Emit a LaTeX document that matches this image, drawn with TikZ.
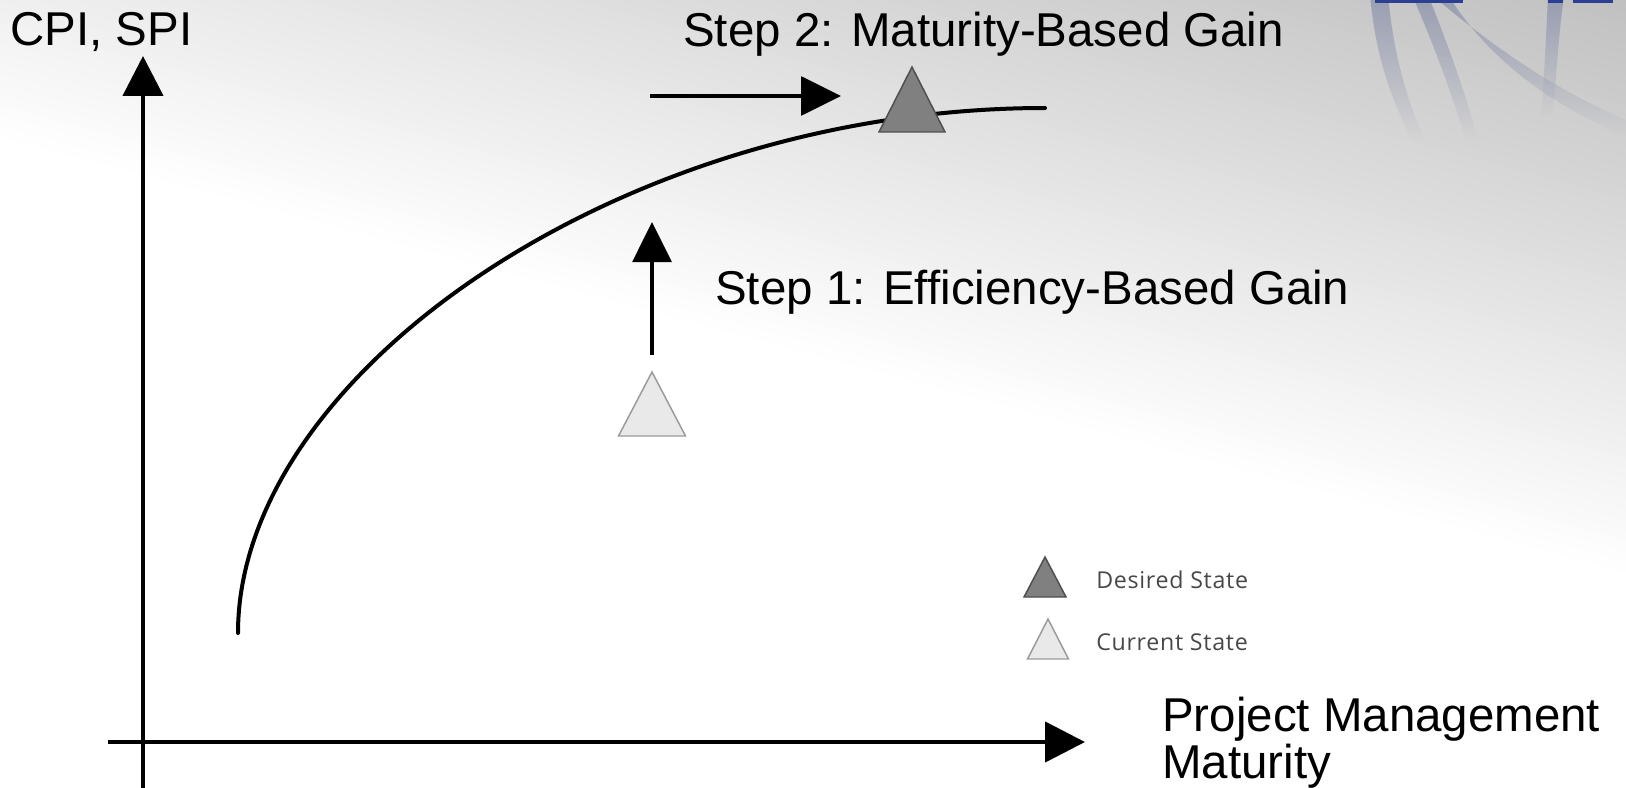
\documentclass[tikz,border=0pt]{standalone}
\usepackage{fontspec}
\setmainfont{Liberation Sans}
\newfontfamily\legendfont[LetterSpace=3]{Open Sans}
\usetikzlibrary{arrows.meta,fadings}
\definecolor{desiredfill}{HTML}{808080}
\definecolor{desiredline}{HTML}{4E4E4E}
\definecolor{currentfill}{HTML}{E9E9E9}
\definecolor{currentline}{HTML}{9A9A9A}
\definecolor{legendtext}{HTML}{484848}
\definecolor{logoblue}{HTML}{2B3F94}
\definecolor{logoghost}{HTML}{6A749C}
\newcommand\statetri[5]{\draw[#5] (#1,#2) -- ++(#3/2,#4) -- ++(-#3,0) -- cycle;}
\begin{document}
\begin{tikzpicture}[x=0.75pt,y=-0.75pt,
  axisline/.style={line width=3.4pt,-{Triangle[length=30pt,width=30pt]}},
  steparrow/.style={line width=3pt,-{Triangle[length=30pt,width=29pt]}},
  curveline/.style={line width=3pt,line cap=round},
  lbl/.style={font=\fontsize{35.6}{42}\selectfont,inner sep=0pt,anchor=base west,text=black},
  leg/.style={font=\legendfont\fontsize{17.4}{20}\selectfont,inner sep=0pt,anchor=base west,text=legendtext},
  desiredtri/.style={fill=desiredfill,draw=desiredline,line width=1.1pt,line join=miter},
  currenttri/.style={fill=currentfill,draw=currentline,line width=1.1pt,line join=miter}
]
\useasboundingbox (0,0) rectangle (1626,788);
% background gradient
\begin{scope}
\clip (0,0) rectangle (1626,788);
\fill[white] (0,0) rectangle (1626,788);
\foreach \p in {620,630,...,1260} {
  \pgfmathsetmacro\ya{788-\p/cos(15)}
  \pgfmathsetmacro\yb{788-(\p-1626*sin(15))/cos(15)}
  \pgfmathsetmacro\k{min(26,max(0,(\p-620)*0.044))}
  \fill[black!\k] (0,\ya) -- (1626,\yb) -- (1626,-10) -- (0,-10) -- cycle;
}
% faint logo remains
\begin{scope}[transparency group, opacity=0.5]
\fill[logoghost, path fading=south] (1370,-5) .. controls (1376,60) and (1392,100) .. (1412,140)
  -- (1424,140) .. controls (1408,100) and (1394,60) .. (1388,-5) -- cycle;
\fill[logoghost, path fading=south] (1412,-5) .. controls (1436,50) and (1452,95) .. (1466,140)
  -- (1478,140) .. controls (1466,95) and (1450,50) .. (1428,-5) -- cycle;
\fill[logoghost, path fading=south] (1432,-5) .. controls (1496,50) and (1560,92) .. (1626,120)
  -- (1626,136) .. controls (1556,108) and (1490,62) .. (1448,-5) -- cycle;
\fill[logoghost, path fading=south] (1548,-5) .. controls (1546,40) and (1544,80) .. (1541,115)
  -- (1553,115) .. controls (1556,80) and (1558,40) .. (1564,-5) -- cycle;
\end{scope}
\fill[logoblue] (1375,0) rectangle (1463,3);
\fill[logoblue] (1548,0) rectangle (1563,3);
\fill[logoblue] (1573,0) rectangle (1613,3);
\end{scope}
% axes
\coordinate (yaxisbottom) at (143,788);
\coordinate (yaxistop) at (143,56);
\coordinate (xaxisleft) at (108,742);
\coordinate (xaxisright) at (1085,742);
\draw[axisline] (yaxisbottom) -- (yaxistop);
\draw[axisline] (xaxisleft) -- (xaxisright);
% maturity curve
\coordinate (curvestart) at (238,633);
\coordinate (curveend) at (1045,108);
\draw[curveline] (curvestart) .. controls (238,375) and (620,108) .. (curveend);
% step arrows
\coordinate (s2from) at (650,96);
\coordinate (s2to) at (841,96);
\draw[steparrow] (s2from) -- (s2to);
\coordinate (s1from) at (652,355);
\coordinate (s1to) at (652,222);
\draw[steparrow] (s1from) -- (s1to);
% states
\statetri{912}{67}{66}{65}{desiredtri}
\statetri{652}{372}{67}{64}{currenttri}
% legend
\statetri{1045}{557}{42}{40}{desiredtri}
\statetri{1048}{619}{41}{40}{currenttri}
\node[leg] (desiredlbl) at (1096,588) {Desired State};
\node[leg] (currentlbl) at (1096,650) {Current State};
% labels
\node[lbl] (cpi) at (10,46) {CPI, SPI};
\node[lbl] (step2) at (683,47) {Step 2: Maturity-Based Gain};
\node[lbl] (step1) at (715,304) {Step 1: Efficiency-Based Gain};
\node[lbl] (pmm1) at (1162,731) {Project Management};
\node[lbl] (pmm2) at (1162,778) {Maturity};
\end{tikzpicture}
\end{document}
